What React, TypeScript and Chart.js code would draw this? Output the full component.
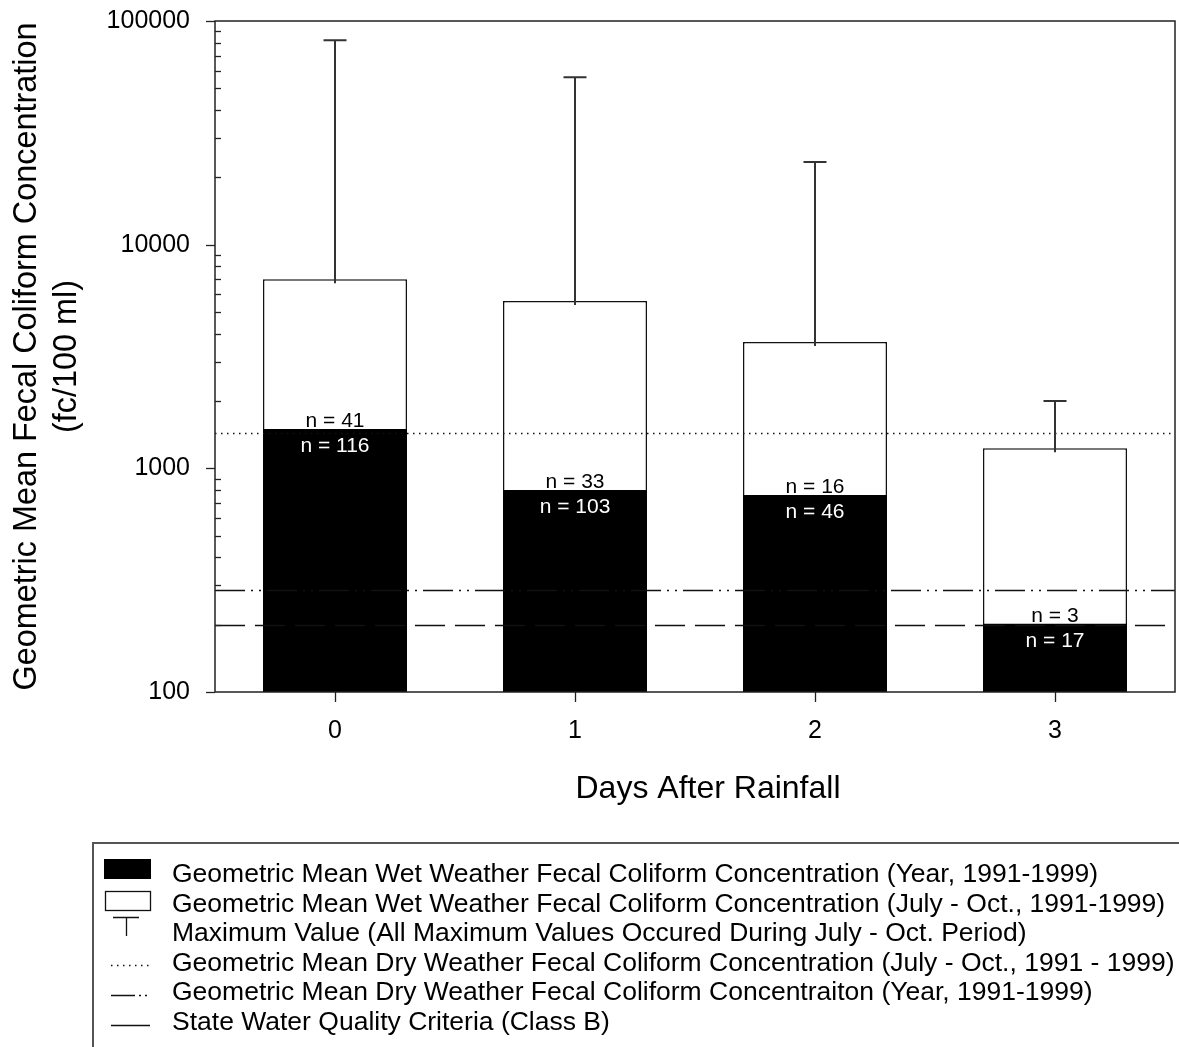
import { useEffect, useRef } from 'react';
import { Chart, registerables } from 'chart.js';

Chart.register(...registerables);

// Days after rainfall (x categories)
const days = ['0', '1', '2', '3'];
// Geometric mean wet-weather fecal coliform, whole year (fc/100 ml)
const annualMean = [1500, 800, 760, 202];
// Geometric mean wet-weather fecal coliform, July - Oct. (fc/100 ml)
const seasonMean = [7000, 5600, 3670, 1230];
// Maximum observed value per day group
const seasonMax = [82000, 56000, 23400, 2000];
// Sample counts
const annualCount = [116, 103, 46, 17];
const seasonCount = [41, 33, 16, 3];
// Horizontal reference levels
const dryWeatherSeason = 1440;
const dryWeatherAnnual = 286;
const classBCriteria = 200;

const yMin = 100;
const yMax = 100000;

const legendLabels = [
  'Geometric Mean Wet Weather Fecal Coliform Concentration (Year, 1991-1999)',
  'Geometric Mean Wet Weather Fecal Coliform Concentration (July - Oct., 1991-1999)',
  'Maximum Value (All Maximum Values Occured During July - Oct. Period)',
  'Geometric Mean Dry Weather Fecal Coliform Concentration (July - Oct., 1991 - 1999)',
  'Geometric Mean Dry Weather Fecal Coliform Concentraiton (Year, 1991-1999)',
  'State Water Quality Criteria (Class B)',
];

const yTitle = ['Geometric Mean Fecal Coliform Concentration', '(fc/100 ml)'];
const xTitle = 'Days After Rainfall';

const FONT = '"Liberation Sans", Arial, Helvetica, sans-serif';
const W = 1179;
const H = 1047;

const isDecade = (v: number) => {
  const l = Math.log10(v);
  return Math.abs(l - Math.round(l)) < 1e-9;
};

const overlayPlugin = {
  id: 'overlay',
  afterDatasetsDraw(chart: any) {
    const { ctx, chartArea: a, scales } = chart;
    const y = scales.y;
    ctx.save();

    // reference levels
    const hline = (v: number, dash: number[], w: number) => {
      const py = Math.round(y.getPixelForValue(v)) + 0.5;
      ctx.beginPath();
      ctx.setLineDash(dash);
      ctx.lineWidth = w;
      ctx.strokeStyle = '#111';
      ctx.moveTo(a.left, py);
      ctx.lineTo(a.right, py);
      ctx.stroke();
    };
    hline(dryWeatherSeason, [1.5, 4.5], 1.3);
    hline(dryWeatherAnnual, [30, 6, 2, 6, 2, 6], 1.3);
    hline(classBCriteria, [30, 10], 1.3);
    ctx.setLineDash([]);

    // maximum-value whiskers
    const seasonMeta = chart.getDatasetMeta(1);
    ctx.strokeStyle = '#333';
    ctx.lineWidth = 2;
    seasonMeta.data.forEach((bar: any, i: number) => {
      const top = y.getPixelForValue(seasonMax[i]);
      ctx.beginPath();
      ctx.moveTo(bar.x, bar.y + 4);
      ctx.lineTo(bar.x, top);
      ctx.moveTo(bar.x - 11.5, top);
      ctx.lineTo(bar.x + 11.5, top);
      ctx.stroke();
    });

    // sample counts
    const annualMeta = chart.getDatasetMeta(0);
    ctx.font = `21px ${FONT}`;
    ctx.textAlign = 'center';
    ctx.textBaseline = 'alphabetic';
    annualMeta.data.forEach((bar: any, i: number) => {
      ctx.fillStyle = '#000';
      ctx.fillText(`n = ${seasonCount[i]}`, bar.x, bar.y - 2);
      ctx.fillStyle = '#fff';
      ctx.fillText(`n = ${annualCount[i]}`, bar.x, bar.y + 23);
    });
    ctx.restore();
  },
  afterDraw(chart: any) {
    const { ctx, chartArea: a, scales } = chart;
    const y = scales.y;
    const x = scales.x;
    ctx.save();

    // frame
    ctx.strokeStyle = '#222';
    ctx.lineWidth = 1.5;
    ctx.strokeRect(a.left, a.top, a.right - a.left, a.bottom - a.top);

    // y ticks: decades outward, minor ticks inward
    ctx.lineWidth = 1.3;
    for (let d = yMin; d < yMax; d *= 10) {
      for (let m = 1; m <= 9; m++) {
        const v = d * m;
        const py = Math.round(y.getPixelForValue(v)) + 0.5;
        ctx.beginPath();
        if (m === 1) {
          ctx.moveTo(a.left - 9, py);
          ctx.lineTo(a.left, py);
        } else {
          ctx.moveTo(a.left, py);
          ctx.lineTo(a.left + 6, py);
        }
        ctx.stroke();
      }
    }
    {
      const py = Math.round(y.getPixelForValue(yMax)) + 0.5;
      ctx.beginPath();
      ctx.moveTo(a.left - 9, py);
      ctx.lineTo(a.left, py);
      ctx.stroke();
    }
    // x ticks outward
    days.forEach((_, i) => {
      const px = Math.round(x.getPixelForValue(i)) + 0.5;
      ctx.beginPath();
      ctx.moveTo(px, a.bottom);
      ctx.lineTo(px, a.bottom + 10);
      ctx.stroke();
    });

    // axis titles
    ctx.fillStyle = '#000';
    ctx.font = `32px ${FONT}`;
    ctx.textAlign = 'center';
    ctx.textBaseline = 'alphabetic';
    ctx.fillText(xTitle, 708, 798);
    ctx.font = `32.4px ${FONT}`;
    const cy = (a.top + a.bottom) / 2;
    [36, 76].forEach((bx, i) => {
      ctx.save();
      ctx.translate(bx, cy);
      ctx.rotate(-Math.PI / 2);
      ctx.fillText(yTitle[i], 0, 0);
      ctx.restore();
    });

    // legend box
    ctx.strokeStyle = '#555';
    ctx.lineWidth = 2;
    ctx.strokeRect(93, 843, W - 93 + 20, H - 843 + 20);

    const rowBase = 882;
    const rowGap = 29.6;
    ctx.font = `26.5px ${FONT}`;
    ctx.textAlign = 'left';
    legendLabels.forEach((t, i) => {
      ctx.fillStyle = '#000';
      ctx.fillText(t, 172, rowBase + i * rowGap);
    });

    // legend symbols
    ctx.fillStyle = '#000';
    ctx.fillRect(104, 859, 47, 20);
    ctx.strokeStyle = '#111';
    ctx.lineWidth = 1.3;
    ctx.strokeRect(105.5, 891.5, 45, 19);

    ctx.beginPath();
    ctx.moveTo(113, 917.5);
    ctx.lineTo(139, 917.5);
    ctx.moveTo(126.5, 917.5);
    ctx.lineTo(126.5, 936);
    ctx.stroke();

    const lineSym = (py: number, dash: number[]) => {
      ctx.beginPath();
      ctx.setLineDash(dash);
      ctx.moveTo(111, py + 0.5);
      ctx.lineTo(150, py + 0.5);
      ctx.stroke();
    };
    lineSym(965, [1.5, 4.5]);
    lineSym(995, [24, 4, 2, 4, 2, 4]);
    lineSym(1025, []);
    ctx.setLineDash([]);

    ctx.restore();
  },
};

export default function App() {
  const ref = useRef<HTMLCanvasElement | null>(null);

  useEffect(() => {
    if (!ref.current) return;
    const chart = new Chart(ref.current, {
      type: 'bar',
      data: {
        labels: days,
        datasets: [
          {
            label: legendLabels[0],
            data: annualMean,
            backgroundColor: '#000',
            borderWidth: 0,
            grouped: false,
            order: 0,
            categoryPercentage: 1,
            barPercentage: 0.6,
          },
          {
            label: legendLabels[1],
            data: seasonMean,
            backgroundColor: '#fff',
            borderColor: '#111',
            borderWidth: 1.5,
            grouped: false,
            order: 1,
            categoryPercentage: 1,
            barPercentage: 0.6,
          },
        ],
      },
      options: {
        animation: false,
        responsive: false,
        maintainAspectRatio: false,
        devicePixelRatio: 1,
        layout: { padding: { top: 21, right: 4, left: 0, bottom: 0 } },
        plugins: {
          legend: { display: false },
          tooltip: { enabled: false },
          title: { display: false },
        },
        scales: {
          x: {
            type: 'category',
            grid: { display: false, drawTicks: false },
            border: { display: false },
            ticks: {
              color: '#000',
              font: { family: FONT, size: 25 },
              padding: 24,
              maxRotation: 0,
            },
            afterFit: (s: any) => {
              s.height = H - 692;
              s.paddingLeft = 0;
              s.paddingRight = 0;
            },
          },
          y: {
            type: 'logarithmic',
            min: yMin,
            max: yMax,
            grid: { display: false, drawTicks: false },
            border: { display: false },
            ticks: {
              color: '#000',
              font: { family: FONT, size: 25 },
              padding: 25,
              autoSkip: false,
              callback: (v: any) => (isDecade(Number(v)) ? String(Number(v)) : ''),
            },
            afterFit: (s: any) => {
              s.width = 215;
              s.paddingTop = 0;
              s.paddingBottom = 0;
            },
          },
        },
      } as any,
      plugins: [overlayPlugin],
    });
    return () => chart.destroy();
  }, []);

  return (
    <div style={{ position: 'absolute', left: 0, top: 0, width: W, height: H, background: '#fff' }}>
      <canvas ref={ref} width={W} height={H} style={{ width: W, height: H, display: 'block' }} />
    </div>
  );
}
